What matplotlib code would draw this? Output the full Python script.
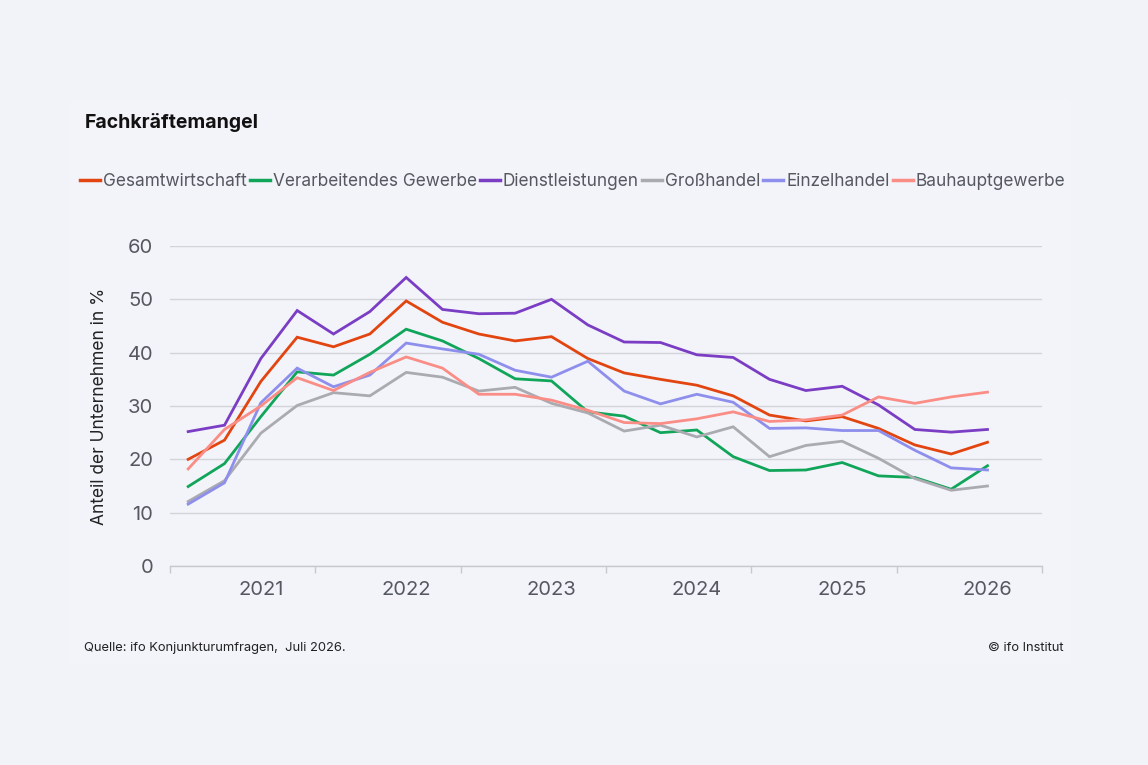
import numpy as np
import matplotlib
matplotlib.use("Agg")
import matplotlib.pyplot as plt
from matplotlib.patches import Rectangle
from matplotlib.lines import Line2D

plt.rcParams['font.family'] = ['Inter', 'DejaVu Sans']

# ---- data (quarterly, Q1 2021 .. Q3 2026) ----
years = ["2021", "2022", "2023", "2024", "2025", "2026"]

gesamt = [20.0, 23.6, 34.6, 42.9, 41.1, 43.5, 49.7, 45.7, 43.5, 42.2, 43.0, 38.9,
          36.2, 35.0, 33.9, 31.9, 28.3, 27.2, 28.0, 25.8, 22.7, 21.0, 23.2]
verarbeitend = [14.9, 19.2, 28.0, 36.4, 35.8, 39.7, 44.4, 42.2, 38.9, 35.1, 34.7, 28.9,
                28.1, 25.0, 25.5, 20.5, 17.9, 18.0, 19.4, 16.9, 16.6, 14.4, 18.8]
dienst = [25.2, 26.4, 38.9, 47.9, 43.5, 47.7, 54.1, 48.1, 47.3, 47.4, 50.0, 45.2,
          42.0, 41.9, 39.6, 39.1, 35.0, 32.9, 33.7, 30.2, 25.6, 25.1, 25.6]
gross = [12.1, 16.0, 24.9, 30.1, 32.5, 31.9, 36.3, 35.4, 32.8, 33.5, 30.5, 28.7,
         25.3, 26.4, 24.2, 26.1, 20.5, 22.6, 23.4, 20.2, 16.4, 14.2, 15.0]
einzel = [11.6, 15.6, 30.6, 37.1, 33.6, 35.8, 41.8, 40.7, 39.7, 36.7, 35.4, 38.4,
          32.8, 30.4, 32.2, 30.7, 25.8, 25.9, 25.4, 25.4, 21.7, 18.4, 18.0]
bau = [18.2, 25.6, 30.0, 35.3, 32.9, 36.3, 39.2, 37.1, 32.2, 32.2, 31.1, 29.2,
       26.9, 26.7, 27.6, 28.9, 27.1, 27.4, 28.3, 31.7, 30.5, 31.7, 32.6]

series = [
    ("Gesamtwirtschaft", gesamt, "#E2450F"),
    ("Verarbeitendes Gewerbe", verarbeitend, "#11A55A"),
    ("Dienstleistungen", dienst, "#7A3DC4"),
    ("Großhandel", gross, "#A9ABB1"),
    ("Einzelhandel", einzel, "#8E8EEC"),
    ("Bauhauptgewerbe", bau, "#FA8D86"),
]

bg = "#F2F3F9"
text_col = "#555860"
W, H = 1148, 765

fig = plt.figure(figsize=(11.48, 7.65), dpi=100, facecolor=bg)
# faint inner panel
fig.patches.append(Rectangle((70 / W, 1 - 665 / H), 1000 / W, 565 / H,
                             transform=fig.transFigure, facecolor="#F3F4FA",
                             edgecolor="none", zorder=-10))

ax = fig.add_axes([170 / W, 1 - 566 / H, 872 / W, 320 / H])
ax.set_facecolor("none")

x = np.arange(len(gesamt))
for name, vals, col in series:
    ax.plot(x, vals, color=col, lw=2.0, label=name, solid_joinstyle="miter", zorder=3)

ax.set_xlim(-0.5, 23.5)
ax.set_ylim(0, 60)
ax.set_yticks(np.arange(0, 61, 10))
ax.grid(axis="y", color="#D3D4DA", lw=1.0)
ax.set_axisbelow(True)

# year boundaries as tick marks, labels in between
ax.set_xticks(np.arange(-0.5, 24, 4))
ax.set_xticklabels([])
ax.set_xticks(np.arange(2, 24, 4), minor=True)
ax.set_xticklabels(years, minor=True)
ax.tick_params(axis="x", which="major", length=5, color="#C8C9CF", width=1.0)
ax.tick_params(axis="x", which="minor", length=0, pad=11, labelsize=14.5, labelcolor=text_col)
ax.tick_params(axis="y", length=0, pad=12, labelsize=14.5, labelcolor=text_col)

for s in ["top", "right", "left"]:
    ax.spines[s].set_visible(False)
ax.spines["bottom"].set_color("#C8C9CF")
ax.spines["bottom"].set_linewidth(1.0)

ax.set_ylabel("Anteil der Unternehmen in %", fontsize=12.5, color="#222222", labelpad=14)

fig.text(85 / W, 1 - 123 / H, "Fachkräftemangel", fontsize=14, fontweight="bold",
         color="#111111", va="center", ha="left")

# legend row, laid out by hand so all labels share one baseline
renderer = fig.canvas.get_renderer()
cur = 80
y_leg = 1 - 180 / H
for name, vals, col in series:
    fig.add_artist(Line2D([cur / W, (cur + 20) / W], [y_leg, y_leg],
                          transform=fig.transFigure, color=col, lw=2.5))
    t = fig.text((cur + 23) / W, 1 - 186 / H, name, fontsize=12.4, color=text_col,
                 va="baseline", ha="left")
    cur = cur + 23 + t.get_window_extent(renderer).width + 3

fig.text(84 / W, 1 - 648 / H, "Quelle: ifo Konjunkturumfragen,  Juli 2026.",
         fontsize=9.3, color="#222222", va="center", ha="left")
fig.text(1063 / W, 1 - 648 / H, "© ifo Institut", fontsize=9.3, color="#222222",
         va="center", ha="right")

fig.savefig("out.png", dpi=100, facecolor=bg)
